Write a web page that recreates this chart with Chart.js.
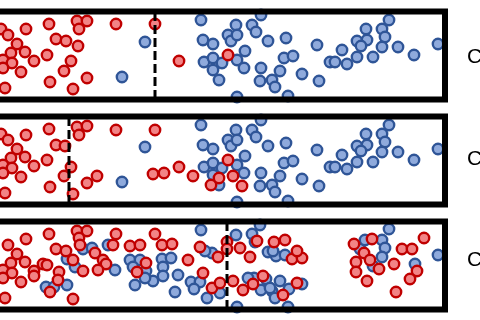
<!DOCTYPE html>
<html>
<head>
<meta charset="utf-8">
<script src="https://cdn.jsdelivr.net/npm/chart.js@4/dist/chart.umd.min.js"></script>
<style>
  body { margin: 0; background: #fff; overflow: hidden; }
  .panel { position: absolute; left: 0; width: 480px; height: 105px; }
</style>
</head>
<body>
<div class="panel" style="top:0px"><canvas id="c1"></canvas></div>
<div class="panel" style="top:105px"><canvas id="c2"></canvas></div>
<div class="panel" style="top:210px"><canvas id="c3"></canvas></div>
<script>
// labels on the right (only the first letter fits in the picture)
var panelLabels = ["Case 1", "Case 2", "Case 3"];
var labelY = [57, 54, 50];
// threshold position for each panel (dashed line)
var thresholds = [155, 69, 227];

// [position, jitter] pairs
var red1 = [[1,29],[8,35],[26,29],[49,24],[77,21],[87,21],[79,29],[116,24],[155,24],[17,44],[56,39],[66,41],[78,46],
  [11,53],[25,52],[47,55],[3,60],[12,63],[34,61],[71,61],[3,68],[21,72],[64,71],[87,78],[50,82],[73,89],[5,88],
  [179,61],[228,55]];
var blue1 = [[145,42],[122,77],[201,20],[203,40],[213,44],[228,35],[236,25],[231,41],[237,35],[204,62],[213,58],
  [222,63],[213,70],[219,80],[237,60],[237,97],[252,25],[261,15],[256,32],[268,41],[286,38],[317,45],[245,51],
  [244,68],[284,58],[293,56],[261,68],[280,71],[302,74],[260,81],[272,80],[275,87],[288,96],[319,81],[330,62],
  [335,62],[347,64],[342,50],[357,41],[366,29],[367,40],[361,46],[357,57],[373,57],[382,29],[385,37],[382,47],
  [389,20],[398,47],[414,55],[438,44]];

var red2 = [[1,29],[8,35],[26,30],[49,24],[77,22],[87,21],[79,30],[116,25],[155,25],[17,44],[56,40],[65,41],
  [11,53],[25,52],[47,55],[3,60],[12,63],[34,61],[71,62],[3,68],[21,72],[64,71],[87,78],[97,71],[50,82],[73,89],
  [5,88],[153,69],[164,68],[179,62],[193,71],[211,80],[219,73],[233,71],[228,55],[242,81]];
var blue2 = blue1;

var red3 = [[8,35],[26,29],[49,24],[77,21],[87,21],[79,28],[80,35],[116,24],[113,35],[130,36],[140,35],[155,24],
  [162,35],[172,34],[17,44],[56,39],[66,41],[95,43],[11,53],[25,52],[43,54],[47,55],[73,50],[103,50],[106,54],
  [3,60],[12,63],[34,61],[59,62],[83,61],[98,60],[3,68],[34,66],[21,72],[58,70],[50,82],[73,89],[5,88],[146,53],
  [137,62],[188,50],[200,37],[218,47],[227,32],[227,39],[203,63],[212,78],[220,73],[233,71],[240,38],[250,47],
  [257,31],[274,32],[285,30],[292,49],[302,48],[297,41],[297,73],[283,85],[243,80],[253,74],[263,66],
  [354,34],[372,29],[364,43],[370,50],[356,52],[356,62],[379,59],[367,71],[394,54],[402,39],[412,39],[424,28],
  [417,61],[410,69],[396,82]];
var blue3 = [[83,39],[92,38],[67,49],[75,57],[108,35],[115,60],[46,77],[54,77],[67,75],[130,50],[140,50],[133,57],
  [146,61],[162,49],[171,48],[163,57],[163,66],[153,71],[135,75],[178,65],[175,82],[145,68],[191,72],[200,72],
  [194,79],[207,88],[201,20],[212,43],[205,41],[236,25],[237,97],[252,24],[260,15],[255,32],[268,42],[276,46],
  [285,45],[273,41],[254,68],[266,69],[280,71],[289,79],[261,80],[272,81],[275,88],[302,74],[288,97],[248,68],
  [220,83],[270,78],[360,39],[365,30],[382,30],[389,19],[385,38],[382,47],[373,56],[415,54],[438,45]];

var redFill = "rgb(242,132,134)", redLine = "#C00000";
var blueFill = "#8FAADC", blueLine = "#2F5597";

function toPts(arr) {
  return arr.map(function(p) { return { x: p[0], y: p[1] }; });
}

function makePanel(id, red, blue, cut, label, ly) {
  var framePlugin = {
    id: "frame",
    afterDatasetsDraw: function(chart) {
      var c = chart.ctx, xs = chart.scales.x, ys = chart.scales.y;
      c.save();
      // dashed threshold
      c.strokeStyle = "#000";
      c.lineWidth = 3;
      c.setLineDash([9, 4]);
      c.beginPath();
      c.moveTo(xs.getPixelForValue(cut), ys.getPixelForValue(12));
      c.lineTo(xs.getPixelForValue(cut), ys.getPixelForValue(99));
      c.stroke();
      // box
      c.setLineDash([]);
      c.lineWidth = 6;
      var l = xs.getPixelForValue(-10), r = xs.getPixelForValue(445);
      var t = ys.getPixelForValue(11.5), b = ys.getPixelForValue(99.5);
      c.strokeRect(l, t, r - l, b - t);
      // label
      c.fillStyle = "#000";
      c.font = "21px 'Liberation Sans', Arial, sans-serif";
      c.textBaseline = "middle";
      c.fillText(label, xs.getPixelForValue(467), ys.getPixelForValue(ly));
      c.restore();
    }
  };

  return new Chart(document.getElementById(id), {
    type: "scatter",
    data: {
      datasets: [{
        label: "red",
        data: toPts(red),
        backgroundColor: redFill,
        borderColor: redLine,
        borderWidth: 2.4,
        pointRadius: 5.2,
        pointHoverRadius: 5.2
      }, {
        label: "blue",
        data: toPts(blue),
        backgroundColor: blueFill,
        borderColor: blueLine,
        borderWidth: 2.4,
        pointRadius: 5.2,
        pointHoverRadius: 5.2
      }]
    },
    options: {
      responsive: true,
      maintainAspectRatio: false,
      animation: false,
      layout: { padding: 0, autoPadding: false },
      plugins: { legend: { display: false }, tooltip: { enabled: false } },
      scales: {
        x: { type: "linear", min: 0, max: 480, display: false },
        y: { type: "linear", min: 0, max: 105, reverse: true, display: false }
      }
    },
    plugins: [framePlugin]
  });
}

makePanel("c1", red1, blue1, thresholds[0], panelLabels[0], labelY[0]);
makePanel("c2", red2, blue2, thresholds[1], panelLabels[1], labelY[1]);
makePanel("c3", red3, blue3, thresholds[2], panelLabels[2], labelY[2]);
</script>
</body>
</html>
